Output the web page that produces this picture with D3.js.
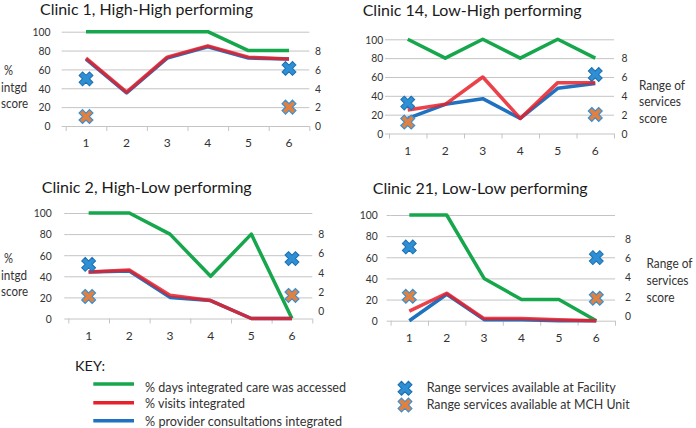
<!DOCTYPE html>
<html>
<head>
<meta charset="utf-8">
<script src="https://cdn.jsdelivr.net/npm/d3@7"></script>
<style>
  html, body { margin: 0; padding: 0; background: #ffffff; }
  svg { display: block; }
</style>
</head>
<body>
<script>
// ---------------- DATA ----------------
const categories = ["1", "2", "3", "4", "5", "6"];
const markerCategories = ["1", "6"];
const leftTicks = [0, 20, 40, 60, 80, 100];
const rightTicks = [0, 2, 4, 6, 8];

const titles = [
  "Clinic 1, High-High performing",
  "Clinic 14, Low-High performing",
  "Clinic 2, High-Low performing",
  "Clinic 21, Low-Low performing"
];

// % days integrated care was accessed
const daysC1  = [100, 100, 100, 100, 80, 80];
const daysC14 = [100, 80, 100, 80, 100, 80];
const daysC2  = [100, 100, 80, 40, 80, 0];
const daysC21 = [100, 100, 40, 20, 20, 0];

// % visits integrated
const visitsC1  = [72, 36, 73, 85, 73, 71];
const visitsC14 = [25, 31, 60, 16, 54, 54];
const visitsC2  = [44, 46, 22, 17, 0, 0];
const visitsC21 = [9, 26, 2, 2, 1, 0];

// % provider consultations integrated
const consultC1  = [71, 35, 72, 84, 72, 71];
const consultC14 = [16, 31, 37, 16, 48, 53];
const consultC2  = [44, 45, 20, 17, 0, 0];
const consultC21 = [0, 25, 1, 1, 0, 0];

// Range services available at Facility (right axis, categories 1 and 6)
const facilityC1  = [5, 6.1];
const facilityC14 = [3.2, 6.2];
const facilityC2  = [4.8, 5.4];
const facilityC21 = [7.1, 6.0];

// Range services available at MCH Unit (right axis, categories 1 and 6)
const mchC1  = [1, 2];
const mchC14 = [1.2, 2];
const mchC2  = [1.5, 1.6];
const mchC21 = [2, 1.8];

const seriesNames = [
  "% days integrated care was accessed",
  "% visits integrated",
  "% provider consultations integrated"
];
const markerNames = [
  "Range services available at Facility",
  "Range services available at MCH Unit"
];
const leftAxisTitle = ["%", "intgd", "score"];
const rightAxisTitle = ["Range of", "services", "score"];

// ---------------- STYLE ----------------
const GREEN = "#16a64c", RED = "#e8202a", BLUE = "#1f72c0";
const FAC_FILL = "#2e8fd4", FAC_STROKE = "#1d6fb0";
const MCH_FILL = "#e2813f", MCH_STROKE = "#3b8fd0";
const GRID = "#c4c4c4";
const TXT = "#333333";

const W = 696, H = 428;
const svg = d3.select("body").append("svg")
  .attr("width", W).attr("height", H)
  .style("font-family", "Lato, 'Open Sans', sans-serif");

function fitTo(sel, w) {
  sel.each(function () {
    this.setAttribute("textLength", w);
    this.setAttribute("lengthAdjust", "spacingAndGlyphs");
  });
}
function squeeze(sel, f) {
  sel.each(function () {
    const l = this.getComputedTextLength();
    this.setAttribute("textLength", l * f);
    this.setAttribute("lengthAdjust", "spacingAndGlyphs");
  });
}

const panels = [
  { title: titles[0], tx: 40, ty: 14.5, tw: 213,
    days: daysC1, visits: visitsC1, consult: consultC1, fac: facilityC1, mch: mchC1,
    x0: 65.7, x1: 309.3, y0: 31.7, y1: 126, rDomain: [0, 10],
    lx: 50.5, rx: 315, leftLabel: { x: 1, ys: [70, 87, 103] } },
  { title: titles[1], tx: 362.7, ty: 16, tw: 219,
    days: daysC14, visits: visitsC14, consult: consultC14, fac: facilityC14, mch: mchC14,
    x0: 389, x1: 614, y0: 39.3, y1: 133.5, rDomain: [0, 9.9],
    lx: 383.3, rx: 621.5, rightLabel: { x: 639, ys: [85, 101.5, 118] } },
  { title: titles[2], tx: 41.7, ty: 193.3, tw: 210,
    days: daysC2, visits: visitsC2, consult: consultC2, fac: facilityC2, mch: mchC2,
    x0: 68.3, x1: 312.3, y0: 213, y1: 318.5, rDomain: [-0.77, 10.09],
    lx: 51.7, rx: 318.3, leftLabel: { x: 1, ys: [258, 275.7, 291.7] } },
  { title: titles[3], tx: 372.7, ty: 194, tw: 215,
    days: daysC21, visits: visitsC21, consult: consultC21, fac: facilityC21, mch: mchC21,
    x0: 390.6, x1: 615, y0: 215, y1: 320.7, rDomain: [-0.52, 10.4],
    lx: 377.7, rx: 625, rightLabel: { x: 646.5, ys: [263, 280, 297] } }
];

const crossPath = d3.symbol(d3.symbolCross, 120)();

panels.forEach(p => {
  const g = svg.append("g");
  const x = d3.scaleBand().domain(categories).range([p.x0, p.x1]);
  const xEdge = d3.scaleLinear().domain([0, categories.length]).range([p.x0, p.x1]);
  const yL = d3.scaleLinear().domain([0, 100]).range([p.y1, p.y0]);
  const yR = d3.scaleLinear().domain(p.rDomain).range([p.y1, p.y0]);
  const cx = c => x(c) + x.bandwidth() / 2;

  // title
  const t = g.append("text").attr("x", p.tx).attr("y", p.ty)
    .attr("font-size", 15.5).attr("fill", "#1a1a1a").text(p.title);
  fitTo(t, p.tw);

  // left axis + gridlines
  const la = g.append("g").attr("transform", `translate(${p.x0},0)`)
    .call(d3.axisLeft(yL).tickValues(leftTicks).tickSize(4).tickPadding(p.x0 - p.lx - 4));
  la.select(".domain").remove();
  la.selectAll(".tick line").attr("stroke", GRID);
  la.selectAll(".tick").append("line").attr("x1", 0).attr("x2", p.x1 - p.x0).attr("stroke", GRID);
  la.selectAll(".tick text").attr("font-size", 12).attr("fill", TXT).attr("font-family", "Lato, sans-serif");
  squeeze(la.selectAll(".tick text"), 0.86);

  // right axis
  const ra = g.append("g").attr("transform", `translate(${p.x1},0)`)
    .call(d3.axisRight(yR).tickValues(rightTicks).tickSize(0).tickPadding(p.rx - p.x1));
  ra.select(".domain").remove();
  ra.selectAll(".tick text").attr("font-size", 12).attr("fill", TXT).attr("font-family", "Lato, sans-serif");
  squeeze(ra.selectAll(".tick text"), 0.86);

  // bottom edge ticks
  const be = g.append("g").attr("transform", `translate(0,${p.y1})`)
    .call(d3.axisBottom(xEdge).ticks(categories.length).tickSize(5).tickFormat(""));
  be.select(".domain").remove();
  be.selectAll(".tick line").attr("stroke", GRID);

  // category labels
  const ba = g.append("g").attr("transform", `translate(0,${p.y1})`)
    .call(d3.axisBottom(x).tickSize(0));
  ba.select(".domain").remove();
  ba.selectAll(".tick text").attr("y", 17).attr("dy", "0.35em")
    .attr("font-size", 12).attr("fill", TXT).attr("font-family", "Lato, sans-serif");

  // axis titles
  if (p.leftLabel) {
    const lw = [9, 26, 27];
    const lx = [4, 1, 1];
    leftAxisTitle.forEach((s, i) => {
      const tt = g.append("text").attr("x", lx[i]).attr("y", p.leftLabel.ys[i]).attr("dy", "0.35em")
        .attr("font-size", 13).attr("fill", TXT).text(s);
      fitTo(tt, lw[i]);
    });
  }
  if (p.rightLabel) {
    const widths = [46, 42, 28];
    rightAxisTitle.forEach((s, i) => {
      const tt = g.append("text").attr("x", p.rightLabel.x).attr("y", p.rightLabel.ys[i]).attr("dy", "0.35em")
        .attr("font-size", 13).attr("fill", TXT).text(s);
      fitTo(tt, widths[i]);
    });
  }

  // lines
  const line = d3.line().x((d, i) => cx(categories[i])).y(d => yL(d));
  g.append("path").datum(p.days).attr("d", line).attr("fill", "none")
    .attr("stroke", GREEN).attr("stroke-width", 3.5).attr("stroke-linejoin", "round");
  g.append("path").datum(p.consult).attr("d", line).attr("fill", "none")
    .attr("stroke", BLUE).attr("stroke-width", 3.5).attr("stroke-linejoin", "round");
  g.append("path").datum(p.visits).attr("d", line).attr("fill", "none")
    .attr("stroke", RED).attr("stroke-opacity", 0.85).attr("stroke-width", 3.5).attr("stroke-linejoin", "round");

  // markers
  markerCategories.forEach((c, i) => {
    g.append("path").attr("d", crossPath)
      .attr("transform", `translate(${cx(c)},${yR(p.mch[i])}) rotate(45)`)
      .attr("fill", MCH_FILL).attr("stroke", MCH_STROKE).attr("stroke-width", 1.2);
    g.append("path").attr("d", crossPath)
      .attr("transform", `translate(${cx(c)},${yR(p.fac[i])}) rotate(45)`)
      .attr("fill", FAC_FILL).attr("stroke", FAC_STROKE).attr("stroke-width", 1);
  });
});

// ---------------- LEGEND ----------------
const lg = svg.append("g");
const key = lg.append("text").attr("x", 75).attr("y", 371).attr("font-size", 14)
  .attr("fill", "#1a1a1a").text("KEY:");
fitTo(key, 30);

const lineColors = [GREEN, RED, BLUE];
const lineYs = [384, 402.7, 420.7];
const lineTextYs = [391.7, 408.3, 425.7];
const lineTextW = [201, 100, 197];
seriesNames.forEach((n, i) => {
  lg.append("line").attr("x1", 93.3).attr("x2", 134).attr("y1", lineYs[i]).attr("y2", lineYs[i])
    .attr("stroke", lineColors[i]).attr("stroke-width", 3.5);
  const tt = lg.append("text").attr("x", 145).attr("y", lineTextYs[i]).attr("font-size", 13)
    .attr("fill", TXT).text(n);
  fitTo(tt, lineTextW[i]);
});

const mkFill = [FAC_FILL, MCH_FILL], mkStroke = [FAC_STROKE, MCH_STROKE];
const mkYs = [388.3, 405], mkTextYs = [392.3, 409.3], mkTextW = [189, 203];
markerNames.forEach((n, i) => {
  lg.append("path").attr("d", crossPath)
    .attr("transform", `translate(405,${mkYs[i]}) rotate(45)`)
    .attr("fill", mkFill[i]).attr("stroke", mkStroke[i]).attr("stroke-width", 1.1);
  const tt = lg.append("text").attr("x", 426.7).attr("y", mkTextYs[i]).attr("font-size", 13)
    .attr("fill", TXT).text(n);
  fitTo(tt, mkTextW[i]);
});
</script>
</body>
</html>
